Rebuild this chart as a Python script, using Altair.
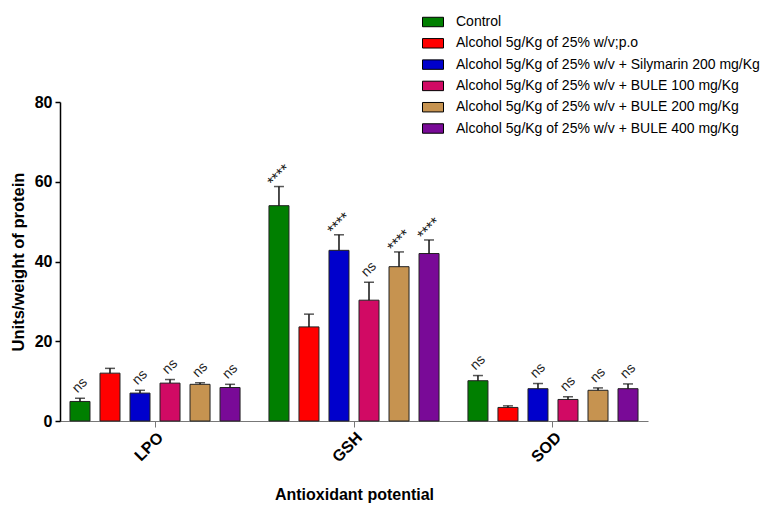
import altair as alt
import pandas as pd

groups = ["LPO", "GSH", "SOD"]
treatments = [
    "Control",
    "Alcohol 5g/Kg of 25% w/v;p.o",
    "Alcohol 5g/Kg of 25% w/v + Silymarin 200 mg/Kg",
    "Alcohol 5g/Kg of 25% w/v + BULE 100 mg/Kg",
    "Alcohol 5g/Kg of 25% w/v + BULE 200 mg/Kg",
    "Alcohol 5g/Kg of 25% w/v + BULE 400 mg/Kg",
]
colors = ["#007F00", "#FF0000", "#0000CC", "#D10A64", "#C69350", "#790A97"]

lpo_mean = [4.9, 12.0, 7.0, 9.5, 9.2, 8.4]
lpo_err = [0.8, 1.2, 0.7, 0.9, 0.4, 0.8]
gsh_mean = [54.0, 23.6, 42.8, 30.3, 38.7, 42.0]
gsh_err = [4.8, 3.2, 3.9, 4.5, 3.7, 3.4]
sod_mean = [10.1, 3.4, 8.1, 5.4, 7.7, 8.1]
sod_err = [1.3, 0.4, 1.3, 0.7, 0.6, 1.2]
lpo_sig = ["ns", "", "ns", "ns", "ns", "ns"]
gsh_sig = ["****", "", "****", "ns", "****", "****"]
sod_sig = ["ns", "", "ns", "ns", "ns", "ns"]

# band layout of the grouped x axis
PAD_IN, PAD_OUT = 0.095, 0.025
SLOT = (1 - PAD_IN) / len(treatments)          # one bar slot, in group units
HALF = PAD_OUT + (1 - PAD_IN) / 2              # group centre offset, in group units

rows = []
for gi, (g, means, errs, sigs) in enumerate([
    ("LPO", lpo_mean, lpo_err, lpo_sig),
    ("GSH", gsh_mean, gsh_err, gsh_sig),
    ("SOD", sod_mean, sod_err, sod_sig),
]):
    for ti, (t, m, e, s) in enumerate(zip(treatments, means, errs, sigs)):
        rows.append({
            "group": g, "treatment": t, "mean": m, "upper": m + e, "sig": s,
            "xpos": gi + (ti - (len(treatments) - 1) / 2) * SLOT,
        })
df = pd.DataFrame(rows)

FONT = "Liberation Sans"

x_enc = alt.X(
    "group:N",
    sort=groups,
    scale=alt.Scale(paddingInner=PAD_IN, paddingOuter=PAD_OUT),
    axis=alt.Axis(
        title="Antioxidant potential",
        labelAngle=315,
        labelFont=FONT,
        labelFontSize=16,
        labelFontWeight="bold",
        labelColor="black",
        labelPadding=2,
        domainColor="#777777",
        domainWidth=1.2,
        tickColor="#777777",
        tickSize=6,
        titleFont=FONT,
        titleFontSize=16,
        titleFontWeight="bold",
        titleColor="black",
        titlePadding=22,
    ),
)
xoff_enc = alt.XOffset(
    "treatment:N", sort=treatments, scale=alt.Scale(paddingInner=1 / 3, paddingOuter=1 / 6)
)
y_scale = alt.Scale(domain=[0, 80], nice=False)

base = alt.Chart(df).encode(x=x_enc, xOffset=xoff_enc)

bars = base.mark_bar(stroke="#222222", strokeWidth=1).encode(
    y=alt.Y(
        "mean:Q",
        scale=y_scale,
        axis=alt.Axis(
            values=[0, 20, 40, 60, 80],
            grid=False,
            title="Units/weight of protein",
            labelFont=FONT,
            labelFontSize=16,
            labelFontWeight="bold",
            labelColor="black",
            labelPadding=3,
            domainColor="black",
            domainWidth=1.5,
            tickColor="black",
            tickWidth=1.5,
            tickSize=5,
            titleFont=FONT,
            titleFontSize=16.5,
            titleFontWeight="bold",
            titleColor="black",
            titlePadding=8,
        ),
    ),
    color=alt.Color(
        "treatment:N",
        sort=treatments,
        title=None,
        scale=alt.Scale(domain=treatments, range=colors),
        legend=alt.Legend(
            orient="none",
            legendX=362,
            legendY=-91,
            symbolType="M-1,-0.45L1,-0.45L1,0.45L-1,0.45Z",
            symbolSize=441,
            symbolStrokeColor="black",
            symbolStrokeWidth=1,
            labelFont=FONT,
            labelFontSize=14,
            labelColor="black",
            labelLimit=500,
            labelOffset=12,
            rowPadding=3.3,
            padding=0,
            labelExpr="indexof(datum.label, '+') > 0 ? '\u00a0' + datum.label : datum.label",
        ),
    ),
)

err = base.mark_rule(color="#111111", strokeWidth=1.5).encode(
    y=alt.Y("mean:Q", scale=y_scale), y2="upper:Q"
)
caps = base.mark_tick(color="#111111", thickness=1.5, size=10).encode(
    y=alt.Y("upper:Q", scale=y_scale)
)
bar_layer = alt.layer(bars, err, caps)

# significance labels: rotated text on a linear x scale matching the band layout
x_lin = alt.X(
    "xpos:Q",
    scale=alt.Scale(domain=[-HALF, len(groups) - 1 + HALF], nice=False, zero=False),
    axis=None,
)
NS_GAP = 3.2     # label gap above the error bar, in y units
STAR_GAP = 2.7

ns_labels = (
    alt.Chart(df)
    .transform_filter("datum.sig == 'ns'")
    .transform_calculate(ylab=f"datum.upper + {NS_GAP}")
    .mark_text(angle=315, fontSize=14, font=FONT, color="#222222")
    .encode(x=x_lin, y=alt.Y("ylab:Q", scale=y_scale), text="sig:N")
)
star_labels = (
    alt.Chart(df)
    .transform_filter("datum.sig == '****'")
    .transform_calculate(ylab=f"datum.upper + {STAR_GAP}")
    .mark_text(angle=315, fontSize=16, font=FONT, color="#222222")
    .encode(x=x_lin, y=alt.Y("ylab:Q", scale=y_scale), text="sig:N")
)

chart = (
    alt.layer(bar_layer, ns_labels, star_labels)
    .resolve_scale(x="independent")
    .properties(
        width=588,
        height=319,
        autosize=alt.AutoSizeParams(type="none"),
        padding={"left": 60, "top": 102, "right": 123, "bottom": 85},
        background="white",
    )
    .configure_view(stroke=None)
)

chart.save("out.html", embed_options={"renderer": "svg", "actions": False})
